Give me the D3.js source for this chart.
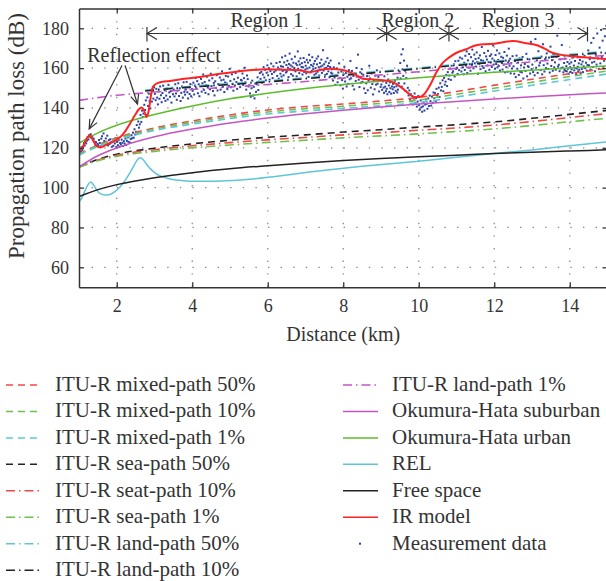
<!DOCTYPE html>
<html>
<head>
<meta charset="utf-8">
<script src="https://cdn.jsdelivr.net/npm/d3@7"></script>
<style>
  html, body { margin: 0; padding: 0; background: #fff; }
  svg { display: block; }
  text { font-family: "Liberation Serif", "DejaVu Serif", serif; fill: #333; }
</style>
</head>
<body>
<svg id="chart" width="606" height="581"></svg>
<script>
// ---- axis ticks ----
const xTicks = [2, 4, 6, 8, 10, 12, 14];
const yTicks = [60, 80, 100, 120, 140, 160, 180];

// ---- model curves: [distance km, path loss dB] ----
const mixed50 = [[1,116.8],[1.5,121.5],[2,125],[3,130],[4,133.5],[5,136.5],[6,139],[7,140.7],[8,142],[9,143.5],[10,145.3],[11,148.3],[12,151.4],[13,154.4],[14,157.2],[15,160]];
const mixed10 = [[1,116.6],[1.5,121.1],[2,124.5],[3,129.4],[4,132.7],[5,135.6],[6,138],[7,139.6],[8,140.9],[9,142.3],[10,144],[11,146.9],[12,149.9],[13,152.9],[14,155.8],[15,158.6]];
const mixed1 = [[1,116.3],[1.5,120.6],[2,123.9],[3,128.7],[4,131.9],[5,134.7],[6,137],[7,138.5],[8,139.8],[9,141.1],[10,142.7],[11,145.5],[12,148.5],[13,151.4],[14,154.3],[15,157.1]];
const sea50 = [[1,110.4],[1.5,114.2],[2,116.8],[3,119.8],[4,122],[5,123.8],[6,125.3],[7,126.5],[8,127.9],[9,129.1],[10,130.4],[11,131.6],[12,133],[13,134.8],[14,136.8],[15,138.8]];
const sea10 = [[1,110.3],[1.5,113.9],[2,116.3],[3,119],[4,121],[5,122.6],[6,124],[7,125.2],[8,126.5],[9,127.6],[10,128.8],[11,130],[12,131.4],[13,133.2],[14,135.2],[15,137.2]];
const sea1 = [[1,110.2],[1.5,113.5],[2,115.7],[3,118.2],[4,120],[5,121.4],[6,122.7],[7,123.8],[8,125],[9,126],[10,127],[11,128.2],[12,129.5],[13,131.2],[14,133.1],[15,134.8]];
const land50 = [[2.75,149],[3,149.4],[4,150.9],[5,152.3],[6,153.6],[7,155.2],[8,156.9],[9,158.5],[10,160.2],[11,161.9],[12,163.5],[13,165.2],[14,166.9],[15,168.5]];
const land10 = [[2.75,148.5],[3,149],[4,150.5],[5,151.8],[6,153.1],[7,154.7],[8,156.4],[9,158],[10,159.7],[11,161.4],[12,163],[13,164.7],[14,166.4],[15,168]];
const land1 = [[1,143.8],[1.5,145.2],[2,146.4],[2.75,147.6],[3,148],[4,149.3],[5,150.5],[6,151.8],[7,153.3],[8,155],[9,156.6],[10,158.2],[11,159.9],[12,161.5],[13,163.2],[14,164.9],[15,166.5]];
const hataSuburban = [[1,110.4],[1.5,116],[2,119.9],[3,125.5],[4,129.4],[5,132.5],[6,135],[7,137.1],[8,138.9],[9,140.5],[10,142],[11,143.3],[12,144.5],[13,145.6],[14,146.6],[15,147.6]];
const hataUrban = [[1,122.3],[1.5,127.5],[2,131.3],[3,136.7],[4,141],[5,144.6],[6,147.4],[7,149.8],[8,151.8],[9,153.6],[10,155.2],[11,156.6],[12,157.9],[13,159],[14,160.1],[15,161.1]];
const rel = [[1,93],[1.08,95],[1.16,98.5],[1.24,101.5],[1.31,102.8],[1.38,101.5],[1.46,99],[1.56,97],[1.69,96.3],[1.82,96.6],[1.95,98],[2.08,100.2],[2.2,103],[2.32,106.5],[2.44,110.5],[2.54,113.8],[2.61,115],[2.68,114.4],[2.78,112],[2.9,109.3],[3.03,107.2],[3.2,105.5],[3.45,104.2],[3.75,103.5],[4.1,103.2],[4.6,103.2],[5.1,103.6],[5.6,104.3],[6.2,105.6],[7.1,107.8],[7.64,109],[8.5,110.7],[10,113.2],[11,115.2],[12,117.1],[13,118.9],[14,121],[15,123]];
const freeSpace = [[1,95.5],[1.5,99],[2,101.5],[3,105],[4,107.5],[5,109.5],[6,111],[7,112.4],[8,113.6],[9,114.6],[10,115.5],[11,116.3],[12,117.1],[13,117.8],[14,118.4],[15,119]];
const irModel = [[1,118],[1.1,120.5],[1.2,124.5],[1.29,126.3],[1.38,123.5],[1.47,120.8],[1.56,120.2],[1.65,120.8],[1.78,122.1],[1.9,123],[2.04,124.6],[2.15,126.5],[2.25,129],[2.35,132.1],[2.48,136.3],[2.58,139.2],[2.66,140.2],[2.72,138.8],[2.79,135.5],[2.85,139],[2.9,145.5],[2.94,149.7],[3,151.5],[3.1,152.6],[3.2,153.1],[3.4,153.6],[3.7,154.4],[4.2,155.5],[4.6,156.8],[5.08,158],[5.5,158.9],[5.96,159.4],[6.4,159.2],[6.85,158.9],[7.11,158],[7.35,158.9],[7.64,159.7],[7.9,159.3],[8.17,158],[8.35,156.5],[8.51,154.7],[8.8,154.3],[9.05,153.9],[9.31,153],[9.45,151.5],[9.58,149.7],[9.75,147],[9.89,145.5],[10.02,145.5],[10.15,147],[10.24,149.5],[10.33,152.5],[10.42,156.2],[10.53,159.8],[10.63,162.5],[10.8,165.3],[10.99,167.6],[11.26,169.5],[11.5,171.4],[11.75,172],[12,172.2],[12.2,172.9],[12.48,173.6],[12.85,172.5],[13.15,171.4],[13.35,169.7],[13.5,168],[13.9,166.3],[14.34,165.5],[15,164.6]];

// ---- measured path loss samples: [distance km, path loss dB] ----
const measurement = [
[1.01,117.2],[1.03,119.0],[1.05,118.1],[1.07,120.3],[1.09,118.8],
[1.11,120.5],[1.13,122.4],[1.15,121.1],[1.17,123.0],[1.19,122.2],
[1.21,123.6],[1.23,125.4],[1.25,124.2],[1.27,126.3],[1.29,125.5],
[1.31,126.8],[1.33,124.9],[1.35,125.7],[1.37,123.8],[1.39,124.6],
[1.41,123.1],[1.43,121.6],[1.45,122.8],[1.47,120.9],[1.49,122.0],
[1.51,121.3],[1.53,123.9],[1.55,122.4],[1.57,120.7],[1.59,124.6],
[1.61,125.8],[1.63,122.1],[1.65,127.2],[1.67,123.4],[1.69,121.5],
[1.71,124.7],[1.73,122.6],[1.75,126.1],[1.77,121.2],[1.79,123.8],
[1.81,121.9],[1.83,124.3],[1.85,122.7],[1.87,120.5],[1.89,123.2],
[1.91,121.0],[1.93,123.6],[1.95,122.2],[1.97,124.8],[1.99,120.4],
[2.01,122.9],[2.03,121.3],[2.05,123.8],[2.07,120.6],[2.09,122.4],
[2.11,121.7],[2.13,124.1],[2.15,122.5],[2.17,120.9],[2.19,123.3],
[2.21,122.1],[2.23,124.6],[2.25,121.4],[2.27,123.5],[2.29,125.2],
[2.31,123.0],[2.33,125.7],[2.35,122.6],[2.37,124.4],[2.39,126.3],
[2.41,124.8],[2.43,127.6],[2.45,125.1],[2.47,129.3],[2.49,126.7],
[2.51,128.0],[2.53,131.4],[2.55,127.5],[2.57,133.2],[2.59,130.1],
[2.61,131.8],[2.63,136.5],[2.65,133.0],[2.67,138.7],[2.69,135.4],
[2.71,137.2],[2.73,141.6],[2.75,139.0],[2.77,143.8],[2.79,136.4],
[2.81,145.3],[2.83,141.0],[2.85,147.2],[2.87,143.5],[2.89,139.8],
[2.91,146.9],[2.93,143.2],[2.95,148.5],[2.97,144.7],[2.99,150.3],
[3.01,147.1],[3.03,143.9],[3.05,149.6],[3.07,145.2],[3.09,141.8],
[3.11,148.3],[3.13,144.6],[3.15,150.8],[3.17,146.4],[3.19,142.9],
[3.21,147.5],[3.23,151.2],[3.25,145.0],[3.27,148.9],[3.29,143.6],
[3.31,146.2],[3.33,149.7],[3.35,144.3],[3.37,151.6],[3.39,147.8],
[3.41,145.6],[3.43,148.4],[3.45,142.7],[3.47,150.1],[3.49,146.9],
[3.51,149.2],[3.53,145.8],[3.55,151.9],[3.57,147.3],[3.59,144.1],
[3.61,148.7],[3.63,152.4],[3.65,146.0],[3.67,149.9],[3.69,143.5],
[3.71,147.6],[3.73,150.8],[3.75,145.2],[3.77,152.9],[3.79,148.1],
[3.81,146.7],[3.83,149.3],[3.85,153.1],[3.87,147.9],[3.89,144.8],
[3.91,150.4],[3.93,147.0],[3.95,152.0],[3.97,145.9],[3.99,149.5],
[4.01,148.6],[4.03,152.7],[4.05,146.8],[4.07,151.3],[4.09,155.1],
[4.11,149.8],[4.13,153.5],[4.15,147.4],[4.17,151.9],[4.19,145.9],
[4.21,150.9],[4.23,154.6],[4.25,148.2],[4.27,152.4],[4.29,156.8],
[4.31,149.1],[4.33,153.0],[4.35,147.6],[4.37,151.5],[4.39,155.7],
[4.41,150.3],[4.43,146.9],[4.45,153.8],[4.47,149.4],[4.49,157.2],
[4.51,151.0],[4.53,154.9],[4.55,148.5],[4.57,152.6],[4.59,146.3],
[4.61,153.4],[4.63,150.1],[4.65,156.5],[4.67,148.8],[4.69,152.0],
[4.71,151.7],[4.73,155.3],[4.75,149.2],[4.77,153.9],[4.79,158.4],
[4.81,150.6],[4.83,154.2],[4.85,148.0],[4.87,152.8],[4.89,156.1],
[4.91,152.3],[4.93,149.5],[4.95,155.8],[4.97,151.1],[4.99,159.6],
[5.01,153.6],[5.03,150.4],[5.05,156.9],[5.07,152.1],[5.09,148.7],
[5.11,154.4],[5.13,151.3],[5.15,157.6],[5.17,153.0],[5.19,149.6],
[5.21,155.2],[5.23,152.0],[5.25,158.7],[5.27,150.5],[5.29,154.1],
[5.31,153.8],[5.33,157.3],[5.35,151.6],[5.37,155.0],[5.39,160.2],
[5.41,152.9],[5.43,149.2],[5.45,156.3],[5.47,154.5],[5.49,150.8],
[5.51,151.4],[5.53,147.3],[5.55,145.6],[5.57,149.9],[5.59,153.7],
[5.61,146.2],[5.63,150.6],[5.65,144.8],[5.67,152.3],[5.69,148.1],
[5.71,151.9],[5.73,155.4],[5.75,149.0],[5.77,153.2],[5.79,157.5],
[5.81,154.6],[5.83,158.1],[5.85,152.7],[5.87,156.8],[5.89,160.5],
[5.91,155.3],[5.93,159.2],[5.95,153.9],[5.97,157.7],[5.99,161.4],
[6.01,156.4],[6.03,160.0],[6.05,154.2],[6.07,158.5],[6.09,162.3],
[6.11,157.1],[6.13,155.0],[6.15,160.9],[6.17,158.0],[6.19,153.6],
[6.21,158.8],[6.23,162.6],[6.25,156.1],[6.27,160.3],[6.29,154.7],
[6.305,159.4],[6.32,163.1],[6.335,157.2],[6.35,161.0],[6.365,155.8],[6.38,165.4],[6.395,158.6],
[6.405,160.7],[6.42,156.4],[6.435,162.9],[6.45,159.1],[6.465,166.2],[6.48,157.8],[6.495,161.6],
[6.505,158.3],[6.52,163.7],[6.535,160.2],[6.55,155.5],[6.565,162.1],[6.58,167.3],[6.595,159.6],
[6.605,161.4],[6.62,157.0],[6.635,164.5],[6.65,160.8],[6.665,156.2],[6.68,162.7],[6.695,159.0],
[6.705,160.1],[6.72,165.8],[6.735,158.4],[6.75,162.3],[6.765,155.9],[6.78,161.5],[6.795,168.4],
[6.805,159.7],[6.82,163.4],[6.835,157.5],[6.85,161.8],[6.865,164.9],[6.88,158.9],[6.895,160.6],
[6.905,162.5],[6.92,156.8],[6.935,160.4],[6.95,165.1],[6.965,158.1],[6.98,163.0],[6.995,159.3],
[7.005,161.2],[7.02,157.4],[7.035,164.2],[7.05,159.8],[7.065,162.8],[7.08,155.6],[7.095,166.7],
[7.105,160.3],[7.12,163.9],[7.135,157.9],[7.15,161.6],[7.165,158.6],[7.18,165.5],[7.195,160.9],
[7.205,159.5],[7.22,162.2],[7.235,156.7],[7.25,163.6],[7.265,160.0],[7.28,157.3],[7.295,164.8],
[7.305,161.9],[7.32,158.2],[7.335,165.9],[7.35,160.5],[7.365,156.3],[7.38,162.6],[7.395,159.2],
[7.405,160.8],[7.42,164.3],[7.435,157.6],[7.45,161.3],[7.465,169.0],[7.48,158.8],[7.495,162.0],
[7.505,159.9],[7.52,156.5],[7.535,163.2],[7.55,160.2],[7.565,157.1],[7.58,165.0],[7.595,161.1],
[7.605,158.4],[7.62,162.5],[7.635,155.4],[7.65,160.6],[7.665,163.8],[7.68,157.7],[7.695,159.4],
[7.71,157.2],[7.73,153.8],[7.75,160.4],[7.77,155.3],[7.79,151.6],
[7.81,156.6],[7.83,159.9],[7.85,152.9],[7.87,157.8],[7.89,162.4],
[7.91,155.1],[7.93,151.4],[7.95,158.3],[7.97,154.0],[7.99,149.7],
[8.01,156.9],[8.03,160.7],[8.05,153.3],[8.07,157.5],[8.09,150.8],
[8.11,155.7],[8.13,152.1],[8.15,159.0],[8.17,154.4],[8.19,163.6],
[8.21,154.9],[8.23,158.6],[8.25,151.2],[8.27,156.1],[8.29,149.3],
[8.31,157.4],[8.33,153.6],[8.35,160.1],[8.37,155.8],[8.39,166.8],
[8.41,154.2],[8.43,150.5],[8.45,157.9],[8.47,152.7],[8.49,159.5],
[8.51,153.1],[8.53,156.7],[8.55,149.8],[8.57,154.6],[8.59,147.5],
[8.61,152.4],[8.63,156.0],[8.65,148.9],[8.67,153.7],[8.69,161.2],
[8.71,154.8],[8.73,150.2],[8.75,157.3],[8.77,152.0],[8.79,146.8],
[8.81,153.5],[8.83,149.4],[8.85,156.2],[8.87,151.7],[8.89,158.9],
[8.91,152.2],[8.93,155.6],[8.95,148.3],[8.97,153.9],[8.99,150.6],
[9.01,151.8],[9.03,149.1],[9.05,153.4],[9.07,150.2],[9.08,147.6],[9.09,155.9],
[9.11,150.7],[9.13,148.4],[9.14,152.6],[9.15,149.6],[9.17,146.9],[9.19,154.3],
[9.21,151.3],[9.22,148.0],[9.24,152.9],[9.25,149.9],[9.27,147.2],[9.29,150.8],
[9.31,149.4],[9.32,152.1],[9.34,147.5],[9.35,150.4],[9.37,153.7],[9.39,148.6],
[9.41,150.9],[9.43,147.8],[9.44,155.2],[9.45,149.2],[9.47,152.5],[9.49,158.3],
[9.51,162.6],[9.52,154.8],[9.54,166.9],[9.55,150.7],[9.57,159.4],[9.58,169.5],[9.59,156.1],
[9.61,163.8],[9.62,152.3],[9.64,158.7],[9.65,148.5],[9.67,155.0],[9.69,161.2],
[9.71,150.1],[9.73,146.3],[9.75,148.8],[9.77,144.2],[9.79,146.9],
[9.81,143.5],[9.83,145.9],[9.85,141.8],[9.87,144.7],[9.89,147.3],
[9.91,142.6],[9.93,144.9],[9.95,140.7],[9.97,143.2],[9.99,146.0],
[10.01,141.4],[10.03,139.2],[10.05,143.8],[10.07,140.3],[10.09,138.1],
[10.11,140.8],[10.13,142.9],[10.15,138.7],[10.17,141.7],[10.19,144.3],
[10.21,142.1],[10.23,139.6],[10.25,144.8],[10.27,141.0],[10.29,146.2],
[10.31,143.4],[10.33,141.2],[10.35,145.7],[10.37,142.6],[10.39,147.8],
[10.41,144.9],[10.43,147.4],[10.45,143.1],[10.47,149.6],[10.49,146.3],
[10.51,147.0],[10.53,150.2],[10.55,145.5],[10.57,152.4],[10.59,148.8],
[10.61,150.6],[10.63,153.9],[10.65,148.4],[10.67,155.1],[10.69,151.7],
[10.71,153.2],[10.73,156.6],[10.75,151.0],[10.77,158.0],[10.79,154.5],
[10.81,156.3],[10.83,159.8],[10.85,154.1],[10.87,161.2],[10.89,157.7],
[10.91,158.4],[10.93,161.9],[10.95,155.8],[10.97,163.5],[10.99,159.6],
[11.01,160.2],[11.03,157.1],[11.05,163.7],[11.07,159.0],[11.09,165.3],
[11.11,161.5],[11.13,158.3],[11.15,164.8],[11.17,160.4],[11.19,156.9],
[11.205,162.7],[11.22,159.1],[11.235,166.2],[11.25,161.3],[11.27,168.4],[11.285,157.6],
[11.305,163.9],[11.32,160.2],[11.335,167.1],[11.35,162.0],[11.37,158.7],[11.385,165.5],
[11.405,161.6],[11.42,169.3],[11.435,163.4],[11.45,159.9],[11.47,166.8],[11.485,162.4],
[11.505,164.6],[11.52,160.8],[11.535,167.9],[11.55,163.1],[11.57,157.2],[11.585,165.0],
[11.605,162.2],[11.62,166.4],[11.635,159.5],[11.65,164.0],[11.67,170.6],[11.685,161.0],
[11.705,163.7],[11.72,160.1],[11.735,167.6],[11.75,162.8],[11.77,158.4],[11.785,165.9],
[11.805,164.3],[11.82,161.4],[11.835,168.7],[11.85,163.0],[11.87,159.2],[11.885,166.1],
[11.905,162.9],[11.92,166.9],[11.935,160.6],[11.95,164.8],[11.97,171.4],[11.985,161.8],
[12.005,163.5],[12.02,159.7],[12.035,166.6],[12.05,162.1],[12.07,168.9],[12.085,160.4],
[12.105,164.1],[12.12,161.1],[12.135,167.4],[12.15,158.8],[12.17,163.3],[12.185,165.7],
[12.205,162.6],[12.22,159.3],[12.235,165.2],[12.25,161.7],[12.27,168.1],[12.285,157.9],
[12.305,163.8],[12.32,160.5],[12.335,166.3],[12.35,158.2],[12.37,162.9],[12.385,169.8],
[12.405,161.2],[12.42,164.7],[12.435,157.4],[12.45,162.5],[12.47,159.8],[12.485,166.0],
[12.51,160.9],[12.53,157.2],[12.55,163.6],[12.57,155.5],[12.59,166.3],
[12.61,159.7],[12.63,162.8],[12.65,156.6],[12.67,164.9],[12.69,158.2],
[12.71,161.4],[12.73,157.9],[12.75,165.6],[12.77,154.8],[12.79,160.3],
[12.81,162.1],[12.83,158.6],[12.85,167.2],[12.87,155.9],[12.89,161.0],
[12.91,160.6],[12.93,164.4],[12.95,157.3],[12.97,173.2],[12.99,159.5],
[13.01,161.8],[13.03,158.0],[13.05,165.1],[13.07,156.4],[13.09,174.6],
[13.11,160.2],[13.13,163.9],[13.15,157.6],[13.17,168.5],[13.19,161.3],
[13.21,162.7],[13.23,159.1],[13.25,165.8],[13.27,156.9],[13.29,172.0],
[13.31,161.5],[13.33,158.3],[13.35,164.6],[13.37,160.0],[13.39,167.4],
[13.41,162.3],[13.43,159.6],[13.45,165.3],[13.47,157.8],[13.49,170.8],
[13.51,161.1],[13.53,164.0],[13.55,158.7],[13.57,166.9],[13.59,160.4],
[13.61,162.9],[13.63,159.2],[13.65,165.7],[13.67,176.3],[13.69,160.8],
[13.71,161.7],[13.73,158.5],[13.75,164.4],[13.77,159.9],[13.79,171.6],
[13.81,160.3],[13.83,157.9],[13.85,162.6],[13.86,159.1],[13.87,164.8],[13.89,158.6],
[13.91,161.0],[13.92,158.4],[13.94,163.1],[13.95,159.7],[13.97,157.2],[13.99,162.2],
[14.01,160.5],[14.02,158.1],[14.04,162.9],[14.05,159.4],[14.07,157.6],[14.09,165.4],
[14.11,161.3],[14.12,158.9],[14.14,163.6],[14.15,160.1],[14.17,157.0],[14.19,159.8],
[14.21,160.7],[14.22,158.3],[14.24,162.4],[14.25,159.2],[14.27,164.1],[14.29,157.5],
[14.31,161.9],[14.32,159.5],[14.34,163.3],[14.35,158.0],[14.37,160.9],[14.39,166.2],
[14.41,160.0],[14.43,162.7],[14.45,158.8],[14.47,161.6],[14.49,168.9],
[14.51,161.4],[14.53,164.5],[14.55,159.3],[14.57,172.7],[14.59,162.8],
[14.61,160.6],[14.63,175.1],[14.65,163.2],[14.67,158.4],[14.69,166.7],
[14.71,161.8],[14.73,177.4],[14.75,164.9],[14.77,159.6],[14.79,170.3],
[14.81,162.4],[14.83,179.2],[14.85,165.6],[14.87,173.8],[14.89,160.7],
[14.91,163.7],[14.93,176.0],[14.95,167.5],[14.97,181.3],[14.99,161.9]
];

// ---- annotated distance regions (km) ----
const regionNames = ["Region 1", "Region 2", "Region 3"];
const regionBounds = [2.8, 9.15, 10.8, 14.47];

// ---- colours and line styles ----
const C = {
  ituRed: "#f04848", ituGreen: "#70c04c", ituCyan: "#5cc6da", black: "#222222",
  purple: "#c456c4", hataGreen: "#5cbd2c", relCyan: "#5fc5d8", irRed: "#ff2424", dot: "#2c43a3"
};
const DASH = "7,5";
const DASHDOT = "9,4,1.5,4";

// drawing order: measurement under the model curves
const series = [
  { name: "ITU-R mixed-path 50%", data: mixed50, color: C.ituRed, dash: DASH, w: 1.6 },
  { name: "ITU-R mixed-path 10%", data: mixed10, color: C.ituGreen, dash: DASH, w: 1.6 },
  { name: "ITU-R mixed-path 1%", data: mixed1, color: C.ituCyan, dash: DASH, w: 1.6 },
  { name: "ITU-R sea-path 50%", data: sea50, color: C.black, dash: DASH, w: 1.6 },
  { name: "ITU-R seat-path 10%", data: sea10, color: C.ituRed, dash: DASHDOT, w: 1.6 },
  { name: "ITU-R sea-path 1%", data: sea1, color: C.ituGreen, dash: DASHDOT, w: 1.6 },
  { name: "ITU-R land-path 50%", data: land50, color: C.ituCyan, dash: DASHDOT, w: 1.6 },
  { name: "ITU-R land-path 10%", data: land10, color: C.black, dash: DASHDOT, w: 1.6 },
  { name: "ITU-R land-path 1%", data: land1, color: C.purple, dash: DASHDOT, w: 1.6 },
  { name: "Okumura-Hata suburban", data: hataSuburban, color: C.purple, dash: null, w: 1.5 },
  { name: "Okumura-Hata urban", data: hataUrban, color: C.hataGreen, dash: null, w: 1.5 },
  { name: "REL", data: rel, color: C.relCyan, dash: null, w: 1.5 },
  { name: "Free space", data: freeSpace, color: C.black, dash: null, w: 1.5 },
  { name: "IR model", data: irModel, color: C.irRed, dash: null, w: 2 }
];

const svg = d3.select("#chart");

const x = d3.scaleLinear().domain([1, 15]).range([79, 607.5]);
const y = d3.scaleLinear().domain([50, 190]).range([287.2, 8.4]);

svg.append("defs").append("clipPath").attr("id", "plotClip")
  .append("rect")
  .attr("x", x(1)).attr("y", y(190))
  .attr("width", x(15) - x(1)).attr("height", y(50) - y(190));

// dotted grid
const grid = svg.append("g").attr("stroke", "#8a8a8a").attr("stroke-width", 1.3)
  .attr("stroke-dasharray", "1.4,11.2");
grid.selectAll("line.v").data(xTicks).join("line").attr("class", "v")
  .attr("x1", d => x(d)).attr("x2", d => x(d))
  .attr("y1", y(50)).attr("y2", y(190));
grid.selectAll("line.h").data(yTicks).join("line").attr("class", "h")
  .attr("x1", x(1)).attr("x2", x(15))
  .attr("y1", d => y(d)).attr("y2", d => y(d));

const plot = svg.append("g").attr("clip-path", "url(#plotClip)");

// measurement scatter
plot.append("g").attr("fill", C.dot)
  .selectAll("rect").data(measurement).join("rect")
  .attr("x", d => x(d[0]) - 1).attr("y", d => y(d[1]) - 1)
  .attr("width", 2).attr("height", 2);

// model curves
const line = d3.line().x(d => x(d[0])).y(d => y(d[1])).curve(d3.curveMonotoneX);
plot.selectAll("path.curve").data(series).join("path")
  .attr("class", "curve")
  .attr("d", d => line(d.data))
  .attr("fill", "none")
  .attr("stroke", d => d.color)
  .attr("stroke-width", d => d.w)
  .attr("stroke-dasharray", d => d.dash);

// axes (ticks pointing inward on all four sides)
const axisColor = "#333";
const gB = svg.append("g").attr("transform", `translate(0,${y(50)})`)
  .call(d3.axisBottom(x).tickValues(xTicks).tickSizeInner(-5).tickSizeOuter(0).tickPadding(12));
const gL = svg.append("g").attr("transform", `translate(${x(1)},0)`)
  .call(d3.axisLeft(y).tickValues(yTicks).tickSizeInner(-5).tickSizeOuter(0).tickPadding(10));
const gT = svg.append("g").attr("transform", `translate(0,${y(190)})`)
  .call(d3.axisTop(x).tickValues(xTicks).tickSizeInner(-5).tickSizeOuter(0).tickFormat(""));
const gR = svg.append("g").attr("transform", `translate(${x(15)},0)`)
  .call(d3.axisRight(y).tickValues(yTicks).tickSizeInner(-5).tickSizeOuter(0).tickFormat(""));
[gB, gL, gT, gR].forEach(g => {
  g.select(".domain").attr("stroke", axisColor).attr("stroke-width", 1.5);
  g.selectAll(".tick line").attr("stroke", axisColor).attr("stroke-width", 1.3);
  g.selectAll(".tick text").attr("fill", "#333").attr("font-size", 18)
    .attr("font-family", '"Liberation Serif", "DejaVu Serif", serif');
});

// axis titles
svg.append("text").attr("x", (x(1) + x(15)) / 2).attr("y", 341)
  .attr("text-anchor", "middle").attr("font-size", 20).text("Distance (km)");
svg.append("text").attr("transform", "translate(24,136) rotate(-90)")
  .attr("text-anchor", "middle").attr("font-size", 23).text("Propagation path loss (dB)");

// region annotations
const arrowY = y(177.4);
const ann = svg.append("g").attr("stroke", "#333").attr("stroke-width", 1.2).attr("fill", "none");
regionNames.forEach((name, i) => {
  const a = x(regionBounds[i]), b = x(regionBounds[i + 1]);
  ann.append("line").attr("x1", a).attr("x2", b).attr("y1", arrowY).attr("y2", arrowY);
  ann.append("path").attr("d", `M${a + 10},${arrowY - 6}L${a},${arrowY}L${a + 10},${arrowY + 6}`);
  ann.append("path").attr("d", `M${b - 10},${arrowY - 6}L${b},${arrowY}L${b - 10},${arrowY + 6}`);
  svg.append("text").attr("x", (a + b) / 2).attr("y", arrowY - 6.6)
    .attr("text-anchor", "middle").attr("font-size", 20).text(name);
});
regionBounds.forEach(v => {
  ann.append("line").attr("x1", x(v)).attr("x2", x(v)).attr("y1", arrowY - 6.5).attr("y2", arrowY + 8);
});

// reflection-effect callout
svg.append("text").attr("x", 154).attr("y", 61.5).attr("text-anchor", "middle")
  .attr("font-size", 20).text("Reflection effect");
const tips = [[1.27, 129.5], [2.55, 142]];
const starts = [[2.14, 161.3], [2.22, 161.3]];
tips.forEach((t, i) => {
  const x0 = x(starts[i][0]), y0 = y(starts[i][1]);
  const x1 = x(t[0]), y1 = y(t[1]);
  const ang = Math.atan2(y1 - y0, x1 - x0);
  const L = 10, spread = 0.42;
  ann.append("line").attr("x1", x0).attr("y1", y0).attr("x2", x1).attr("y2", y1);
  ann.append("path").attr("d",
    `M${x1 - L * Math.cos(ang - spread)},${y1 - L * Math.sin(ang - spread)}L${x1},${y1}` +
    `L${x1 - L * Math.cos(ang + spread)},${y1 - L * Math.sin(ang + spread)}`);
});

// legend: two columns
const legendItems = series.map(s => ({ ...s, kind: "line" }))
  .concat([{ name: "Measurement data", color: C.dot, kind: "dot" }]);
const rowH = 26.45, legendTop = 385;
const leg = svg.append("g");
legendItems.forEach((it, i) => {
  const col = i < 8 ? 0 : 1;
  const row = col === 0 ? i : i - 8;
  const lx = col === 0 ? 6 : 343;
  const tx = col === 0 ? 55 : 392;
  const ly = legendTop + row * rowH;
  if (it.kind === "line") {
    leg.append("line").attr("x1", lx).attr("x2", lx + 35).attr("y1", ly).attr("y2", ly)
      .attr("stroke", it.color).attr("stroke-width", 1.5)
      .attr("stroke-dasharray", it.dash);
  } else {
    leg.append("rect").attr("x", lx + 16).attr("y", ly - 1).attr("width", 2).attr("height", 2)
      .attr("fill", it.color);
  }
  leg.append("text").attr("x", tx).attr("y", ly + 6).attr("font-size", 21).text(it.name);
});
</script>
</body>
</html>
